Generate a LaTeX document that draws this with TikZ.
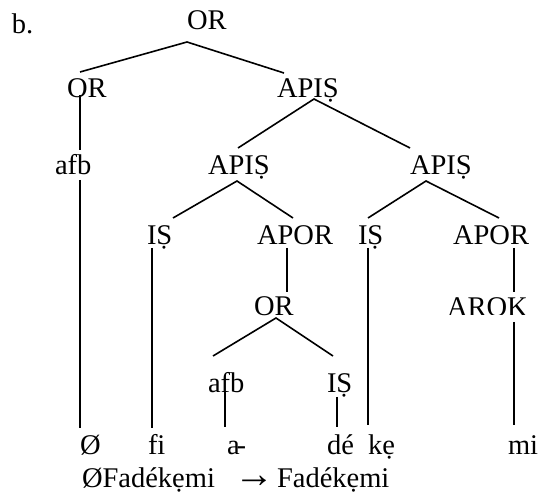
\documentclass[tikz,border=0pt]{standalone}
\usepackage{fontspec}
\setmainfont{Liberation Serif}
\newfontfamily\arrowfont{Liberation Sans}
\begin{document}
\begin{tikzpicture}[x=1pt,y=-1pt,
  lbl/.style={anchor=base west,inner sep=0pt,outer sep=0pt,font=\fontsize{28.5}{34}\selectfont},
  br/.style={line width=1.6pt}]
\useasboundingbox (0,0) rectangle (544,494);
% labels
\node[lbl] (b) at (12,34) {b.};
\node[lbl] (top) at (187,30) {OR};
\node[lbl] (orL) at (67,98) {OR};
\node[lbl] (apis1) at (277,98) {APIṢ};
\node[lbl] (afb1) at (55,175) {afb};
\node[lbl] (apisL) at (208,175) {APIṢ};
\node[lbl] (apisR) at (410,175) {APIṢ};
\node[lbl] (isL) at (147,245) {IṢ};
\node[lbl] (aporL) at (257,245) {APOR};
\node[lbl] (isR) at (358,245) {IṢ};
\node[lbl] (aporR) at (453,245) {APOR};
\node[lbl] (or4) at (254,316) {OR};
\begin{scope}
\clip (440,280) rectangle (540,315);
\node[lbl] (arok) at (447,317) {AROK};
\end{scope}
\node[lbl] (afb5) at (208,393) {afb};
\node[lbl] (is5) at (327,393) {IṢ};
\node[lbl] (w1) at (80,455) {Ø};
\node[lbl] (w2) at (148,455) {fi};
\node[lbl] (w3) at (227,455) {a\kern-3pt-};
\node[lbl] (w4) at (327,455) {dé};
\node[lbl] (w5) at (368,455) {kẹ};
\node[lbl] (w6) at (508,455) {mi};
\node[lbl] (src) at (82,487) {ØFadékẹmi};
\node[lbl,font=\fontsize{40}{42}\selectfont\arrowfont\bfseries,text height=16pt,text depth=0pt] (arr) at (234,487) {→};
\node[lbl] (res) at (277,487) {Fadékẹmi};
% attachment points
\coordinate (top-d) at (187,42);
\coordinate (orL-u) at (80,72);
\coordinate (orL-d) at (80,95);
\coordinate (apis1-u) at (284,73);
\coordinate (apis1-d) at (314,99);
\coordinate (afb1-u) at (80,150);
\coordinate (afb1-d) at (80,180);
\coordinate (apisL-u) at (238,148);
\coordinate (apisL-d) at (237,181);
\coordinate (apisR-u) at (410,148);
\coordinate (apisR-d) at (426,181);
\coordinate (isL-u) at (173,218);
\coordinate (isL-d) at (152,248);
\coordinate (aporL-u) at (293,218);
\coordinate (aporL-d) at (287,248);
\coordinate (isR-u) at (368,218);
\coordinate (isR-d) at (368,248);
\coordinate (aporR-u) at (499,218);
\coordinate (aporR-d) at (514,248);
\coordinate (or4-u) at (287,292);
\coordinate (or4-d) at (276,318);
\coordinate (arok-u) at (514,292);
\coordinate (arok-d) at (514,322);
\coordinate (afb5-u) at (213,356);
\coordinate (afb5-d) at (225,392);
\coordinate (is5-u) at (333,356);
\coordinate (is5-d) at (337,397);
\coordinate (w1-u) at (80,428);
\coordinate (w2-u) at (152,428);
\coordinate (w3-u) at (225,427);
\coordinate (w4-u) at (337,427);
\coordinate (w5-u) at (368,425);
\coordinate (w6-u) at (514,425);
% branches
\draw[br] (orL-u) -- (top-d) -- (apis1-u);
\draw[br] (orL-d) -- (afb1-u);
\draw[br] (afb1-d) -- (w1-u);
\draw[br] (apisL-u) -- (apis1-d) -- (apisR-u);
\draw[br] (isL-u) -- (apisL-d) -- (aporL-u);
\draw[br] (isR-u) -- (apisR-d) -- (aporR-u);
\draw[br] (isL-d) -- (w2-u);
\draw[br] (aporL-d) -- (or4-u);
\draw[br] (isR-d) -- (w5-u);
\draw[br] (aporR-d) -- (arok-u);
\draw[br] (arok-d) -- (w6-u);
\draw[br] (afb5-u) -- (or4-d) -- (is5-u);
\draw[br] (afb5-d) -- (w3-u);
\draw[br] (is5-d) -- (w4-u);
\end{tikzpicture}
\end{document}
